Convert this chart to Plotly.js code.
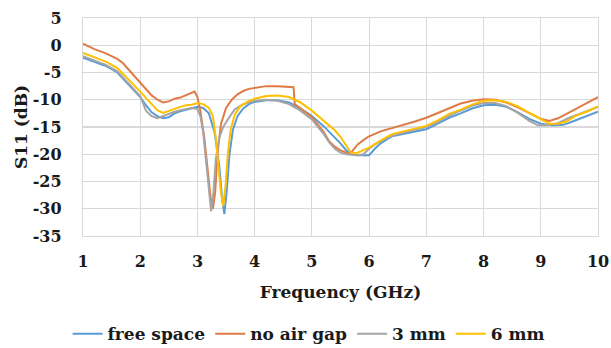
<!DOCTYPE html>
<html>
<head>
<meta charset="utf-8">
<script src="https://cdn.plot.ly/plotly-3.0.1.min.js"></script>
<style>html,body{margin:0;padding:0;background:#fff;}#chart{width:611px;height:348px;}</style>
</head>
<body>
<div id="chart"></div>
<script>
// Frequency (GHz) and S11 (dB) for each configuration
const freqFree = [1.0,1.2,1.4,1.6,1.8,2.0,2.1,2.2,2.3,2.4,2.5,2.6,2.7,2.8,2.9,3.0,3.1,3.2,3.3,3.38,3.43,3.47,3.51,3.56,3.62,3.7,3.8,3.9,4.0,4.2,4.4,4.6,4.8,5.0,5.2,5.4,5.5,5.6,5.7,5.8,6.0,6.1,6.2,6.4,6.6,6.8,7.0,7.2,7.4,7.6,7.8,8.0,8.2,8.4,8.6,8.8,9.0,9.2,9.4,9.6,9.8,10.0];
const s11Free = [-2.3,-3.0,-3.8,-5.0,-7.2,-9.5,-11.0,-12.3,-13.0,-13.4,-13.2,-12.5,-12.1,-11.8,-11.5,-11.3,-11.5,-12.5,-16.0,-22.0,-28.0,-31.0,-27.0,-20.0,-15.5,-13.0,-11.6,-10.8,-10.4,-10.1,-10.1,-10.5,-11.6,-13.0,-14.8,-17.0,-18.0,-19.3,-20.0,-20.2,-20.2,-19.0,-18.0,-16.7,-16.3,-15.9,-15.4,-14.4,-13.3,-12.5,-11.6,-11.0,-10.9,-11.3,-12.3,-13.5,-14.4,-14.7,-14.6,-13.8,-13.0,-12.2];

const freqNoGap = [1.0,1.2,1.4,1.6,1.7,1.8,1.9,2.0,2.1,2.2,2.3,2.4,2.5,2.6,2.7,2.8,2.9,2.95,3.0,3.05,3.12,3.18,3.23,3.27,3.31,3.35,3.41,3.5,3.6,3.7,3.8,3.9,4.0,4.2,4.4,4.6,4.68,4.7,4.8,5.0,5.2,5.3,5.4,5.5,5.6,5.66,5.7,5.8,5.9,6.0,6.2,6.4,6.6,6.8,7.0,7.2,7.4,7.6,7.8,8.0,8.2,8.4,8.6,8.8,9.0,9.15,9.3,9.5,9.7,9.85,10.0];
const s11NoGap = [0.3,-0.7,-1.5,-2.5,-3.3,-4.5,-5.5,-6.8,-8.0,-9.2,-10.0,-10.5,-10.3,-9.8,-9.6,-9.2,-8.7,-8.5,-9.5,-12.0,-17.0,-23.0,-28.0,-30.0,-27.0,-20.0,-14.5,-11.5,-10.0,-9.0,-8.4,-8.0,-7.8,-7.5,-7.5,-7.6,-7.7,-10.8,-11.6,-13.2,-15.8,-17.6,-18.6,-19.3,-19.7,-19.9,-19.5,-18.2,-17.4,-16.7,-15.8,-15.2,-14.7,-14.0,-13.3,-12.4,-11.5,-10.7,-10.2,-9.9,-10.0,-10.5,-11.4,-12.5,-13.5,-13.9,-13.4,-12.3,-11.2,-10.4,-9.5];

const freq3mm = [1.0,1.2,1.4,1.6,1.8,2.0,2.1,2.2,2.3,2.4,2.5,2.6,2.7,2.8,2.9,3.0,3.05,3.1,3.15,3.2,3.24,3.28,3.32,3.38,3.45,3.55,3.65,3.8,4.0,4.2,4.4,4.6,4.8,5.0,5.2,5.3,5.4,5.5,5.6,5.8,5.9,6.0,6.1,6.3,6.5,6.7,6.9,7.0,7.2,7.4,7.6,7.8,8.0,8.2,8.4,8.6,8.8,8.95,9.1,9.3,9.5,9.7,9.85,10.0];
const s113mm = [-2.0,-2.8,-3.6,-4.8,-7.0,-9.3,-12.0,-13.0,-13.4,-13.0,-12.5,-12.2,-11.9,-11.7,-11.5,-11.7,-13.0,-16.0,-21.0,-27.0,-30.5,-27.0,-21.0,-17.0,-15.0,-13.3,-11.8,-10.8,-10.2,-10.0,-10.2,-10.8,-12.0,-13.6,-16.2,-17.8,-19.0,-19.7,-20.0,-20.2,-20.0,-19.0,-18.2,-17.0,-16.3,-15.8,-15.3,-15.0,-14.0,-12.9,-12.0,-11.1,-10.6,-10.6,-11.2,-12.4,-13.9,-14.7,-14.7,-14.3,-13.3,-12.5,-12.0,-11.3];

const freq6mm = [1.0,1.2,1.4,1.6,1.8,2.0,2.2,2.3,2.4,2.5,2.6,2.7,2.8,2.9,3.0,3.1,3.2,3.27,3.32,3.37,3.41,3.45,3.49,3.53,3.58,3.65,3.75,3.9,4.0,4.2,4.4,4.6,4.8,5.0,5.2,5.4,5.5,5.6,5.68,5.78,5.9,6.0,6.2,6.4,6.6,6.8,7.0,7.2,7.4,7.6,7.8,8.0,8.2,8.4,8.6,8.8,9.0,9.15,9.3,9.45,9.6,9.8,10.0];
const s116mm = [-1.4,-2.2,-3.0,-4.2,-6.3,-8.5,-10.8,-11.9,-12.4,-12.0,-11.6,-11.3,-11.0,-10.9,-10.6,-10.8,-11.5,-13.0,-17.0,-22.0,-27.0,-29.5,-26.0,-20.0,-15.5,-12.8,-11.2,-10.2,-9.8,-9.3,-9.2,-9.5,-10.5,-12.0,-13.8,-15.6,-16.8,-18.5,-19.7,-19.8,-19.3,-18.8,-17.5,-16.3,-15.8,-15.3,-14.8,-13.8,-12.6,-11.8,-10.9,-10.2,-10.1,-10.4,-11.2,-12.4,-13.6,-14.4,-14.4,-14.0,-13.0,-12.2,-11.2];

const seriesNames = ['free space','no air gap','3 mm','6 mm'];
const xTicks = [1,2,3,4,5,6,7,8,9,10];
const yTicks = [5,0,-5,-10,-15,-20,-25,-30,-35];

const colors = ['#5b9bd5','#e07b45','#a5a5a5','#ffc000'];
const xs = [freqFree, freqNoGap, freq3mm, freq6mm];
const ys = [s11Free, s11NoGap, s113mm, s116mm];

const traces = seriesNames.map((n,i)=>({
  x: xs[i], y: ys[i], name: n, type:'scatter', mode:'lines',
  line:{color:colors[i], width:2, shape:'linear'}
}));

const fam = 'DejaVu Serif';
const txt = '#1a1a1a';
const layout = {
  width:611, height:348,
  margin:{l:83, r:13, t:18, b:112, autoexpand:false},
  paper_bgcolor:'#fff', plot_bgcolor:'#fff',
  font:{family:fam, color:txt},
  showlegend:true,
  legend:{orientation:'h', xref:'container', x:0.505, xanchor:'center', y:-0.45, yanchor:'middle',
    font:{family:fam, size:17, color:txt, weight:'bold'}, itemwidth:30, tracegroupgap:0},
  xaxis:{range:[1,10], tickvals:xTicks, ticktext:xTicks.map(String),
    showgrid:true, gridcolor:'#d9d9d9', gridwidth:1.2, zeroline:false,
    showline:true, linecolor:'#d9d9d9', linewidth:1.2, mirror:true,
    ticks:'', ticklabelstandoff:11, ticklabeloverflow:'allow',
    tickfont:{family:fam, size:16, color:txt, weight:'bold'},
    title:{text:'Frequency (GHz)', standoff:15, font:{family:fam, size:17, color:txt, weight:'bold'}}},
  yaxis:{range:[-35,5], tickvals:yTicks, ticktext:yTicks.map(String),
    showgrid:true, gridcolor:'#d9d9d9', gridwidth:1.2, zeroline:false,
    showline:true, linecolor:'#d9d9d9', linewidth:1.2, mirror:true,
    ticks:'', ticklabelstandoff:17, ticklabeloverflow:'allow',
    tickfont:{family:fam, size:16, color:txt, weight:'bold'},
    title:{text:'S11 (dB)', standoff:0, font:{family:fam, size:17, color:txt, weight:'bold'}}}
};
Plotly.newPlot('chart', traces, layout, {staticPlot:true, displayModeBar:false});
</script>
</body>
</html>
